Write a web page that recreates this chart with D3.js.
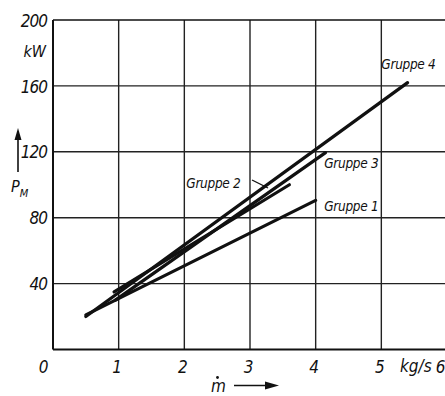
<!DOCTYPE html>
<html><head><meta charset="utf-8">
<script src="https://cdn.jsdelivr.net/npm/d3@7"></script>
<style>
html,body{margin:0;padding:0;background:#fff;}
text{font-family:"Liberation Sans Narrow","DejaVu Sans Condensed","Arial Narrow",sans-serif;font-style:italic;fill:#111;}
</style></head>
<body><svg id="c" width="445" height="396"></svg>
<script>
// ---- data ----
const groupNames = ["Gruppe 1", "Gruppe 2", "Gruppe 3", "Gruppe 4"];
const massFlowG1 = [0.5, 4.0];   const powerG1 = [21, 90.5];
const massFlowG2 = [0.93, 3.6];  const powerG2 = [35, 100];
const massFlowG3 = [0.95, 4.15]; const powerG3 = [30, 119.5];
const massFlowG4 = [0.5, 5.4];   const powerG4 = [20, 162];
const xTicks = [0, 1, 2, 3, 4, 5, 6];
const yTicks = [40, 80, 120, 160, 200];
const xUnit = "kg/s", yUnit = "kW";

const svg = d3.select("#c");
const x = d3.scaleLinear().domain([0, 6]).range([53, 447]);
const y = d3.scaleLinear().domain([0, 200]).range([349.5, 20]);

// grid
const g = svg.append("g");
g.selectAll(".vx").data(xTicks.filter(d => d > 0 && d < 6)).join("line")
  .attr("x1", d => x(d)).attr("x2", d => x(d)).attr("y1", y(0)).attr("y2", y(200))
  .attr("stroke", "#222").attr("stroke-width", 1.4);
g.selectAll(".hy").data(yTicks.filter(d => d < 200)).join("line")
  .attr("y1", d => y(d)).attr("y2", d => y(d)).attr("x1", x(0)).attr("x2", x(6))
  .attr("stroke", "#222").attr("stroke-width", 1.4);
// frame
g.append("line").attr("x1", x(0)).attr("x2", x(6)).attr("y1", y(200)).attr("y2", y(200)).attr("stroke", "#111").attr("stroke-width", 1.6);
g.append("line").attr("x1", x(0)).attr("x2", x(6)).attr("y1", y(0)).attr("y2", y(0)).attr("stroke", "#111").attr("stroke-width", 2);
g.append("line").attr("x1", x(0)).attr("x2", x(0)).attr("y1", y(0)).attr("y2", y(200)).attr("stroke", "#111").attr("stroke-width", 2);

// y tick labels
const yAxis = d3.axisLeft(y).tickValues(yTicks).tickSize(0).tickPadding(6).tickFormat(d3.format("d"));
const ya = svg.append("g").attr("transform", `translate(${x(0)},0)`).call(yAxis);
ya.select(".domain").remove();
ya.selectAll("text").attr("font-size", 17).attr("font-family", null).attr("dy", "0.36em").style("letter-spacing", "-1px");
svg.append("text").attr("x", 46).attr("y", 57).attr("text-anchor", "end").attr("font-size", 16).text(yUnit);

// x tick labels
const xAxis = d3.axisBottom(x).tickValues(xTicks).tickSize(0).tickPadding(11).tickFormat(d3.format("d"));
const xa = svg.append("g").attr("transform", `translate(0,${y(0)})`).call(xAxis);
xa.select(".domain").remove();
xa.selectAll("text").attr("font-size", 17).attr("font-family", null)
  .attr("transform", d => d === 0 ? "translate(-10,0)" : d === 6 ? "translate(-7,0)" : "translate(-2,0)");
svg.append("text").attr("x", 400).attr("y", 372).attr("font-size", 17).text(xUnit);

// axis titles
const pm = svg.append("text").attr("x", 11).attr("y", 192).attr("font-size", 16);
pm.append("tspan").text("P");
pm.append("tspan").attr("font-size", 11).attr("dy", 5).text("M");
svg.append("line").attr("x1", 18).attr("x2", 18).attr("y1", 172).attr("y2", 136).attr("stroke", "#111").attr("stroke-width", 1.6);
svg.append("path").attr("d", "M18,128 L14.5,140 L21.5,140 Z").attr("fill", "#111");
svg.append("text").attr("x", 211).attr("y", 392).attr("font-size", 17).text("m");
svg.append("circle").attr("cx", 217.5).attr("cy", 377.5).attr("r", 1.4).attr("fill", "#111");
svg.append("line").attr("x1", 234).attr("x2", 268).attr("y1", 385.5).attr("y2", 385.5).attr("stroke", "#111").attr("stroke-width", 1.6);
svg.append("path").attr("d", "M279,385.5 L265,381.5 L265,389.5 Z").attr("fill", "#111");

// series lines
const series = [
  {name: groupNames[0], xs: massFlowG1, ys: powerG1},
  {name: groupNames[1], xs: massFlowG2, ys: powerG2},
  {name: groupNames[2], xs: massFlowG3, ys: powerG3},
  {name: groupNames[3], xs: massFlowG4, ys: powerG4}
];
const line = d3.line().x(d => x(d[0])).y(d => y(d[1]));
svg.selectAll(".ser").data(series).join("path")
  .attr("d", s => line(s.xs.map((v, i) => [v, s.ys[i]])))
  .attr("fill", "none").attr("stroke", "#111").attr("stroke-width", 3.2).attr("stroke-linecap", "round");

// labels (annotation positions in data units)
const labelPos = [[4.13, 84], [2.03, 98], [4.13, 110], [5.0, 170]];
svg.selectAll(".lab").data(series).join("text")
  .attr("x", (s, i) => x(labelPos[i][0])).attr("y", (s, i) => y(labelPos[i][1]))
  .attr("font-size", 13.5).style("letter-spacing", "-0.3px").text(s => s.name);
// leader for Gruppe 2
svg.append("line").attr("x1", 252).attr("y1", 180).attr("x2", 268).attr("y2", 188)
  .attr("stroke", "#111").attr("stroke-width", 1.3);
</script></body></html>
